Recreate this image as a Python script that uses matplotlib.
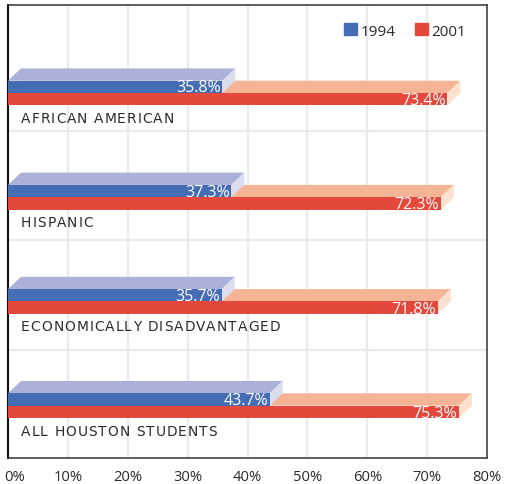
import matplotlib

matplotlib.use("Agg")
import matplotlib.pyplot as plt
from matplotlib.patches import Polygon, Patch
from matplotlib.transforms import offset_copy, ScaledTranslation
from matplotlib.font_manager import FontProperties, findfont, get_font

categories = ["AFRICAN AMERICAN", "HISPANIC", "ECONOMICALLY DISADVANTAGED",
              "ALL HOUSTON STUDENTS"]
years = ["1994", "2001"]
pct_1994 = [35.8, 37.3, 35.7, 43.7]
pct_2001 = [73.4, 72.3, 71.8, 75.3]
xticks = [0, 10, 20, 30, 40, 50, 60, 70, 80]

# colours: front, top, side
BLUE = ("#446db3", "#abb1d9", "#dcdef0")
RED = ("#e4483b", "#f5b496", "#fde1cf")

DPI = 100
PX_Y = 104.2           # pixels per category step
BAR_H = 12.3 / PX_Y    # bar thickness (data units)
DX = 13 / 5.9875       # 3d depth, x (percent)
DY = BAR_H             # 3d depth, y


def box3d(ax, v, y0, y1, cols, z):
    """Front face via barh, top + side faces as polygons (y axis inverted)."""
    front, top, side = cols
    ax.barh(y0 + (y1 - y0) / 2, v, height=y1 - y0, color=front, zorder=z + 0.2)
    ax.add_patch(Polygon([(0, y0), (v, y0), (v + DX, y0 - DY), (DX, y0 - DY)],
                         closed=True, facecolor=top, edgecolor="none", zorder=z))
    ax.add_patch(Polygon([(v, y0), (v, y1), (v + DX, y1 - DY), (v + DX, y0 - DY)],
                         closed=True, facecolor=side, edgecolor="none", zorder=z + 0.1))


def spaced_text(ax, x, y, s, fp, track_pt, **kw):
    font = get_font(findfont(fp))
    font.set_size(fp.get_size_in_points(), 72)
    off = 0.0
    for ch in s:
        tr = offset_copy(ax.transData, fig=ax.figure, x=off, y=0, units="points")
        ax.text(x, y, ch, fontproperties=fp, transform=tr, ha="left",
                va="center", **kw)
        g = font.load_char(ord(ch))
        off += g.linearHoriAdvance / 65536 + track_pt


fig = plt.figure(figsize=(5.05, 4.85), dpi=DPI)
ax = fig.add_axes([8 / 505, 1 - 459 / 485, 479 / 505, 453 / 485])

for i, (b, r) in enumerate(zip(pct_1994, pct_2001)):
    c = i
    z = 10 + i * 3
    # red box behind, blue box over its top face, red front on top
    box3d(ax, r, c, c + BAR_H, RED, z)
    box3d(ax, b, c - BAR_H, c, BLUE, z + 1)
    ax.barh(c + BAR_H / 2, r, height=BAR_H, color=RED[0], zorder=z + 2)

    ax.text(b - 0.3, c - 1.5 / PX_Y, f"{b}%", ha="right", va="baseline",
            color="white", fontsize=11.5, family="Open Sans", zorder=z + 3)
    ax.text(r - 0.3, c + BAR_H - 1.2 / PX_Y, f"{r}%", ha="right", va="baseline",
            color="white", fontsize=11.5, family="Open Sans", zorder=z + 3)

    spaced_text(ax, 2.17, c + 0.24, categories[i],
                FontProperties(family="DejaVu Sans", size=9.9), 0.75,
                color="#2a2a2a", zorder=z + 3)

# grid
for x in xticks[1:-1]:
    ax.axvline(x, color="#ebebeb", lw=1.6, zorder=1)
for y in [(132 - 94) / PX_Y, (241 - 94) / PX_Y, (350.5 - 94) / PX_Y]:
    ax.axhline(y, color="#ebebeb", lw=1.6, zorder=1)

ax.set_xlim(0, 80)
ax.set_ylim((459 - 94) / PX_Y, (6 - 94) / PX_Y)
ax.set_yticks([])
ax.set_xticks(xticks)
ax.set_xticklabels([f"{x}%" for x in xticks], family="Open Sans",
                   fontsize=10.6, color="#2a2a2a")
ax.tick_params(axis="x", length=0, pad=8)
first = ax.get_xticklabels()[0]
first.set_ha("left")
first.set_transform(first.get_transform()
                    + ScaledTranslation(-4 / DPI, 0, fig.dpi_scale_trans))

for name, sp in ax.spines.items():
    sp.set_color("#333333")
    sp.set_linewidth(1.1)
ax.spines["left"].set_color("#111111")
ax.spines["left"].set_linewidth(1.5)

handles = [Patch(color=BLUE[0]), Patch(color=RED[0])]
ax.legend(handles, years, loc="center right", bbox_to_anchor=(472 / 479, 1 - 26 / 453),
          ncol=2, frameon=False, handlelength=0.85, handleheight=0.85,
          handletextpad=0.25, columnspacing=1.25,
          prop=FontProperties(family="Open Sans", size=11),
          labelcolor="#2a2a2a")

fig.savefig("out.png", dpi=DPI, facecolor="white")
